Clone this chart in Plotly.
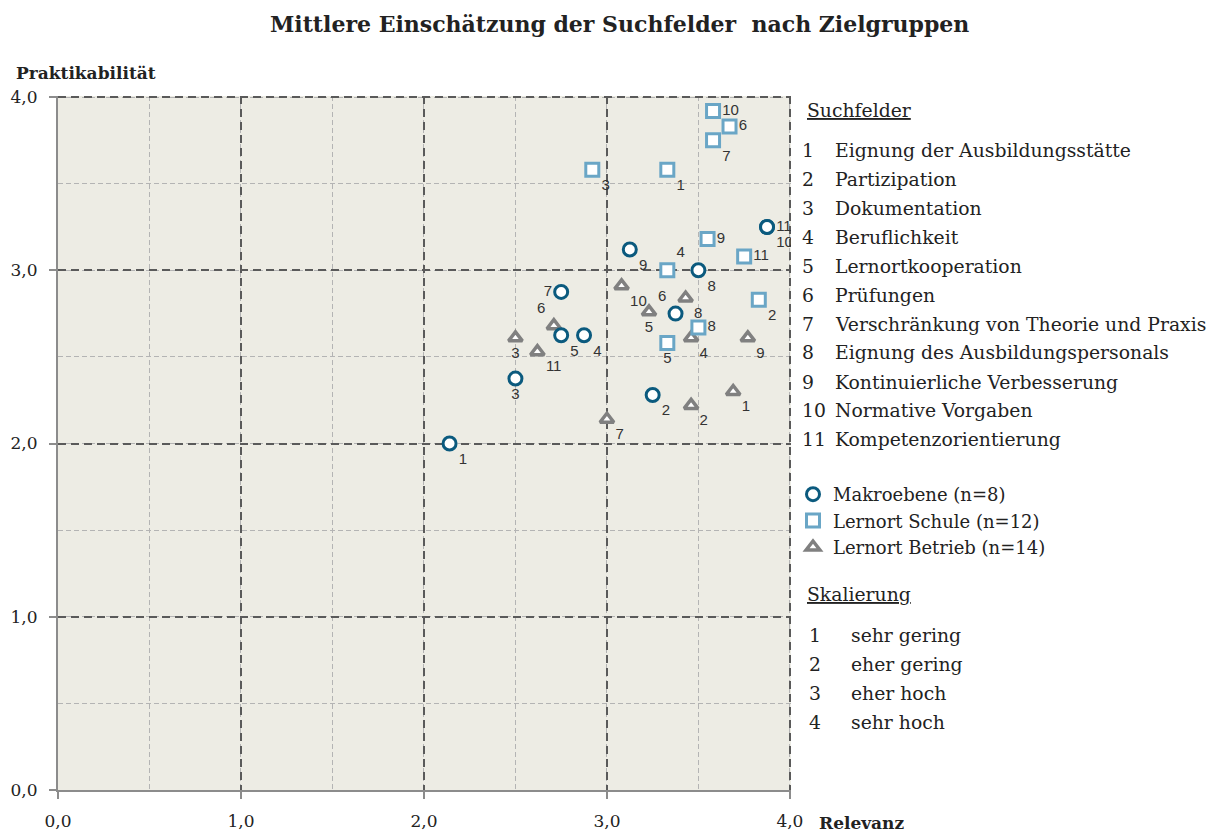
import plotly.graph_objects as go

# ---------------- data ----------------
field_ids = ["1", "2", "3", "4", "5", "6", "7", "8", "9", "10", "11"]
field_names = [
    "Eignung der Ausbildungsstätte",
    "Partizipation",
    "Dokumentation",
    "Beruflichkeit",
    "Lernortkooperation",
    "Prüfungen",
    "Verschränkung von Theorie und Praxis",
    "Eignung des Ausbildungspersonals",
    "Kontinuierliche Verbesserung",
    "Normative Vorgaben",
    "Kompetenzorientierung",
]

makro_x = [2.14, 3.25, 2.50, 2.875, 2.75, 3.375, 2.75, 3.50, 3.125, 3.875, 3.875]
makro_y = [2.00, 2.28, 2.375, 2.625, 2.625, 2.75, 2.875, 3.00, 3.12, 3.25, 3.25]

schule_x = [3.33, 3.83, 2.92, 3.33, 3.33, 3.67, 3.58, 3.50, 3.55, 3.58, 3.75]
schule_y = [3.58, 2.83, 3.58, 3.00, 2.58, 3.83, 3.75, 2.67, 3.18, 3.92, 3.08]

betrieb_x = [3.69, 3.46, 2.50, 3.46, 3.23, 2.71, 3.00, 3.43, 3.77, 3.08, 2.62]
betrieb_y = [2.30, 2.22, 2.61, 2.61, 2.76, 2.68, 2.14, 2.84, 2.61, 2.91, 2.53]

series_names = ["Makroebene (n=8)", "Lernort Schule (n=12)", "Lernort Betrieb (n=14)"]
scale_ids = ["1", "2", "3", "4"]
scale_names = ["sehr gering", "eher gering", "eher hoch", "sehr hoch"]
tick_vals = [0, 1, 2, 3, 4]

# ---------------- styles ----------------
SERIF = "DejaVu Serif"
LABEL_FONT = dict(family="Liberation Sans", size=15, color="#333333")

makro_pos = ["bottom right", "bottom right", "bottom center", "bottom right", "bottom right",
             "top left", "middle left", "bottom right", "bottom right", "bottom right", "middle right"]
schule_pos = ["bottom right", "bottom right", "bottom right", "top right", "bottom center",
              "middle right", "bottom right", "middle right", "middle right", "middle right", "middle right"]
betrieb_pos = ["bottom right", "bottom right", "bottom center", "bottom right", "bottom center",
               "top left", "bottom right", "bottom right", "bottom right", "bottom right", "bottom right"]

fig = go.Figure()

fig.add_trace(go.Scatter(
    x=betrieb_x, y=betrieb_y, mode="markers+text", name=series_names[2],
    text=field_ids, textposition=betrieb_pos, textfont=LABEL_FONT,
    marker=dict(symbol="triangle-up", size=12, color="white",
                line=dict(color="#808080", width=3.5)),
    legendrank=3,
))
fig.add_trace(go.Scatter(
    x=schule_x, y=schule_y, mode="markers+text", name=series_names[1],
    text=field_ids, textposition=schule_pos, textfont=LABEL_FONT,
    marker=dict(symbol="square", size=13, color="white",
                line=dict(color="#6aa6c6", width=3)),
    legendrank=2,
))
fig.add_trace(go.Scatter(
    x=makro_x, y=makro_y, mode="markers+text", name=series_names[0],
    text=field_ids, textposition=makro_pos, textfont=LABEL_FONT,
    marker=dict(symbol="circle", size=13, color="white",
                line=dict(color="#0b5a7e", width=3)),
    legendrank=1,
))

# ---------------- layout ----------------
W, H = 1216, 835
L, R, T, B = 58, 791, 96, 790


def px(xp, yp):
    return (xp - L) / (R - L), (B - yp) / (B - T)


axis_common = dict(
    range=[0, 4.006], tickvals=tick_vals, tickformat=".1f",
    showgrid=True, gridcolor="#5a5a5a", gridwidth=1.5, griddash="8px,5px",
    minor=dict(dtick=0.5, showgrid=True, gridcolor="#b4b4b4", gridwidth=1,
               griddash="5px,3px"),
    showline=True, linecolor="#8c8c8c", linewidth=2,
    ticks="outside", ticklen=7, tickcolor="#8c8c8c", tickwidth=1.5,
    zeroline=False, fixedrange=True, automargin=False,
    tickfont=dict(family=SERIF, size=17, color="#222222"),
)

fig.update_layout(
    width=W, height=H,
    margin=dict(l=L, r=W - R, t=T, b=H - B, autoexpand=False),
    paper_bgcolor="white",
    plot_bgcolor="#edece4",
    separators=",.",
    showlegend=True,
    legend=dict(
        x=px(793, 0)[0], y=px(0, 476)[1], xanchor="left", yanchor="top",
        font=dict(family=SERIF, size=18, color="#222222"),
        bgcolor="rgba(0,0,0,0)", tracegroupgap=3, itemwidth=30,
        traceorder="normal",
    ),
    xaxis=dict(**axis_common, ticklabelstandoff=8),
    yaxis=dict(**axis_common, ticklabelstandoff=8),
)

annotations = []


def add_text(text, xp, yp, size=18.8, anchor="left", bold=False):
    xx, yy = px(xp, yp)
    if bold:
        text = "<b>" + text + "</b>"
    annotations.append(dict(
        text=text, x=xx, y=yy, xref="paper", yref="paper",
        xanchor=anchor, yanchor="middle", showarrow=False,
        font=dict(family=SERIF, size=size, color="#222222"),
    ))


add_text("Mittlere Einschätzung der Suchfelder  nach Zielgruppen", 619, 24, size=22,
         anchor="center", bold=True)
add_text("Praktikabilität", 14, 73, size=17, bold=True)
add_text("Relevanz", 817, 823, size=17, bold=True)

add_text("<u>Suchfelder</u>", 805, 110)
row_y = [150, 179, 208, 237, 266, 295, 324, 353, 382, 410, 439]
for fid, name, yp in zip(field_ids, field_names, row_y):
    add_text(fid, 800, yp)
    add_text(name, 833, yp)

add_text("<u>Skalierung</u>", 805, 594)
scale_y = [635, 664, 693, 722]
for sid, name, yp in zip(scale_ids, scale_names, scale_y):
    add_text(sid, 807, yp)
    add_text(name, 849, yp)

fig.update_layout(annotations=annotations)

fig.write_html(
    "out.html",
    config={"displayModeBar": False},
    post_script="document.body.style.margin='0';document.body.style.overflow='hidden';",
)
